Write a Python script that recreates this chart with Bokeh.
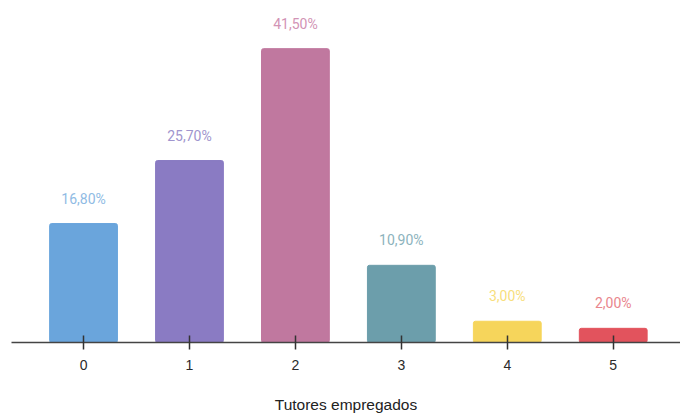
from bokeh.plotting import figure
from bokeh.models import ColumnDataSource, FixedTicker, Range1d
from bokeh.core.properties import value
from bokeh.embed import file_html
from bokeh.resources import INLINE

# Share of respondents by number of employed tutors
categories = [0, 1, 2, 3, 4, 5]
tick_labels = ["0", "1", "2", "3", "4", "5"]
shares = [16.8, 25.7, 41.5, 10.9, 3.0, 2.0]
bar_colors = ["#6aa5dc", "#8a7bc3", "#c0789f", "#6c9eab", "#f6d55b", "#e2535d"]
label_colors = ["#8fbbe4", "#a095ce", "#d293b5", "#8cb3bd", "#f8de7c", "#e9868d"]
label_texts = [f"{v:.2f}".replace(".", ",") + "%" for v in shares]

source = ColumnDataSource(dict(
    x=categories, top=shares, color=bar_colors,
    label=label_texts, label_color=label_colors,
))

p = figure(
    width=680, height=416,
    x_range=Range1d(-0.68, 5.635), y_range=Range1d(0, 48.3),
    output_backend="svg", toolbar_location=None,
    min_border_left=11, min_border_right=0, min_border_top=0, min_border_bottom=74,
)

p.vbar(x="x", top="top", bottom=0, width=0.64, color="color", source=source,
       border_radius=2)

p.text(x="x", y="top", text="label", text_color="label_color", source=source,
       text_align="center", text_baseline="middle", y_offset=-25,
       text_font=value("Roboto"), text_font_size="14px")

p.yaxis.visible = False
p.xgrid.visible = False
p.ygrid.visible = False
p.outline_line_color = None
p.background_fill_color = "white"
p.border_fill_color = "white"

ax = p.xaxis[0]
ax.ticker = FixedTicker(ticks=categories)
ax.major_label_overrides = {c: t for c, t in zip(categories, tick_labels)}
ax.minor_tick_line_color = None
ax.major_tick_in = 7
ax.major_tick_out = 7
ax.major_tick_line_color = "#333333"
ax.major_tick_line_width = 1.5
ax.axis_line_color = "#444444"
ax.axis_line_width = 1.5
ax.major_label_standoff = 10
ax.major_label_text_font = "Liberation Sans"
ax.major_label_text_font_size = "14px"
ax.major_label_text_color = "#2a2a2a"
ax.axis_label = "Tutores empregados"
ax.axis_label_text_font = "Liberation Sans"
ax.axis_label_text_font_style = "normal"
ax.axis_label_text_font_size = "15.5px"
ax.axis_label_text_color = "#222222"
ax.axis_label_standoff = 23

open("out.html", "w").write(file_html(p, INLINE))
